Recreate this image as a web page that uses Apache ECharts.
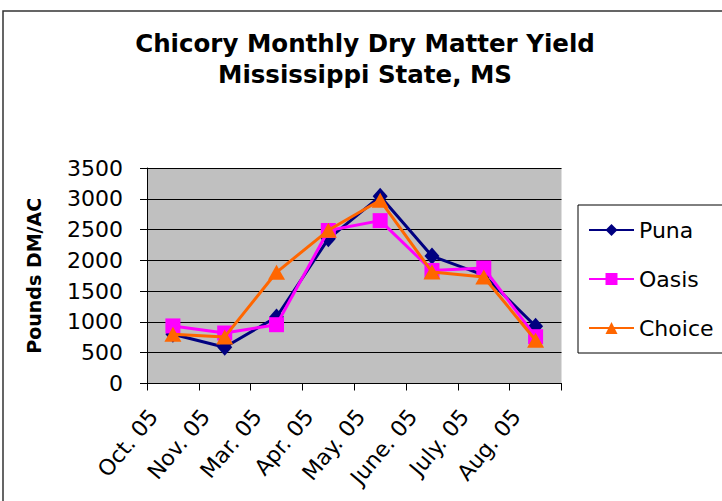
<!DOCTYPE html>
<html>
<head>
<meta charset="utf-8">
<script src="https://cdn.jsdelivr.net/npm/echarts@6/dist/echarts.min.js"></script>
<style>
  html, body { margin: 0; padding: 0; background: #fff; }
  #chart { width: 722px; height: 501px; }
</style>
</head>
<body>
<div id="chart"></div>
<script>
const months = ['Oct. 05', 'Nov. 05', 'Mar. 05', 'Apr. 05', 'May. 05', 'June. 05', 'July. 05', 'Aug. 05'];
const puna   = [800, 590, 1080, 2350, 3040, 2070, 1760, 930];
const oasis  = [935, 820, 955, 2485, 2645, 1835, 1875, 760];
const choice = [800, 757, 1806, 2488, 2975, 1812, 1730, 703];
const yTicks = { min: 0, max: 3500, interval: 500 };

const FONT = 'DejaVu Sans';
const chart = echarts.init(document.getElementById('chart'), null, { renderer: 'svg' });

chart.setOption({
  animation: false,
  backgroundColor: '#ffffff',
  textStyle: { fontFamily: FONT, color: '#000' },
  title: {
    text: 'Chicory Monthly Dry Matter Yield\nMississippi State, MS',
    left: 365,
    top: 28,
    padding: 0,
    textAlign: 'center',
    textStyle: { fontFamily: FONT, fontSize: 24.5, fontWeight: 'bold', color: '#000', lineHeight: 31 }
  },
  graphic: [
    { type: 'rect', silent: true, z: -10,
      shape: { x: 3, y: 11, width: 740, height: 600 },
      style: { fill: null, stroke: '#333', lineWidth: 1.5 } },
    { type: 'rect', silent: true, z: 5,
      shape: { x: 578, y: 205, width: 200, height: 148 },
      style: { fill: null, stroke: '#000', lineWidth: 1 } }
  ],
  legend: {
    orient: 'vertical',
    left: 588,
    top: 219,
    padding: 0,
    itemWidth: 45,
    itemHeight: 15,
    itemGap: 27,
    textStyle: { fontFamily: FONT, fontSize: 22, color: '#000' },
    data: ['Puna', 'Oasis', 'Choice']
  },
  grid: {
    left: 147, right: 160.5, top: 168, bottom: 117.5,
    show: true, backgroundColor: '#c0c0c0', borderWidth: 0
  },
  xAxis: {
    type: 'category',
    data: months,
    boundaryGap: true,
    axisLine: { lineStyle: { color: '#000', width: 1 } },
    axisTick: { show: true, length: 7, inside: false, lineStyle: { color: '#000' } },
    axisLabel: {
      rotate: 50, interval: 0, margin: 6,
      padding: [0, 30, 0, 0],
      fontFamily: FONT, fontSize: 22, color: '#000'
    },
    splitLine: { show: false }
  },
  yAxis: {
    type: 'value',
    min: yTicks.min, max: yTicks.max, interval: yTicks.interval,
    name: 'Pounds DM/AC',
    nameLocation: 'middle',
    nameRotate: 90,
    nameGap: 104,
    nameTextStyle: { fontFamily: FONT, fontSize: 19, fontWeight: 'bold', color: '#000' },
    axisLine: { show: true, lineStyle: { color: '#000', width: 1 } },
    axisTick: { show: true, length: 7, inside: false, lineStyle: { color: '#000' } },
    axisLabel: { margin: 24, fontFamily: FONT, fontSize: 22, color: '#000',
      formatter: function (v) { return String(v); } },
    splitLine: { show: true, lineStyle: { color: '#000', width: 1 } }
  },
  series: [
    { name: 'Puna', type: 'line', data: puna, symbol: 'diamond', symbolSize: [15, 17],
      itemStyle: { color: '#000080' }, lineStyle: { color: '#000080', width: 3 }, z: 2 },
    { name: 'Oasis', type: 'line', data: oasis, symbol: 'rect', symbolSize: 15,
      itemStyle: { color: '#ff00ff' }, lineStyle: { color: '#ff00ff', width: 3 }, z: 3 },
    { name: 'Choice', type: 'line', data: choice, symbol: 'triangle', symbolSize: [17, 15],
      itemStyle: { color: '#ff6600' }, lineStyle: { color: '#ff6600', width: 3 }, z: 4 }
  ]
});
</script>
</body>
</html>
